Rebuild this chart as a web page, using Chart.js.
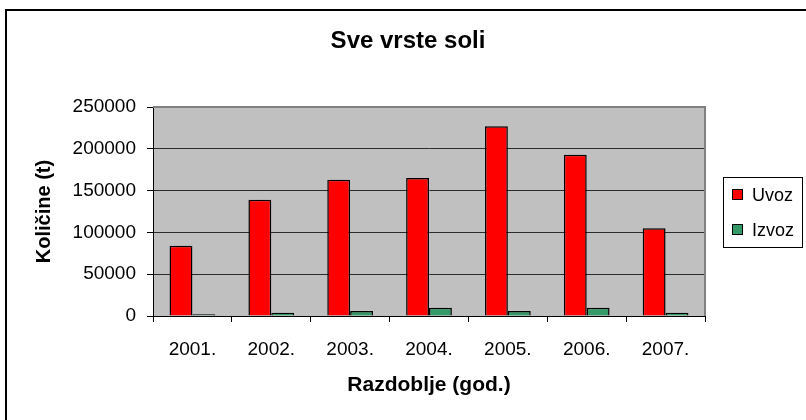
<!DOCTYPE html>
<html>
<head>
<meta charset="utf-8">
<script src="https://cdn.jsdelivr.net/npm/chart.js@4/dist/chart.umd.min.js"></script>
<style>
    html, body { margin: 0; padding: 0; background: #fff; overflow: hidden; }
    #frame {
        position: absolute; left: 5px; top: 9px; width: 799px; height: 409px;
        border-top: 2px solid #000; border-left: 2px solid #000;
    }
    #wrap { position: absolute; left: 0; top: 0; width: 806px; height: 420px; }
</style>
</head>
<body>
<div id="frame"></div>
<div id="wrap"><canvas id="chart" width="806" height="420"></canvas></div>
<script>
// data
const chartTitle = 'Sve vrste soli';
const years = ['2001.', '2002.', '2003.', '2004.', '2005.', '2006.', '2007.'];
const uvoz = [84000, 139000, 163000, 165000, 227000, 193000, 105000];
const izvoz = [2000, 4000, 6000, 10000, 6000, 10000, 4000];
const seriesNames = ['Uvoz', 'Izvoz'];
const seriesColors = ['#FF0000', '#339966'];

const FONT = "'Liberation Sans', Arial, sans-serif";

// grey plot area, grey top/right edge, title and boxed legend (Excel look)
const excelLook = {
    id: 'excelLook',
    beforeDraw(chart) {
        const { ctx, chartArea: a } = chart;
        ctx.save();
        ctx.fillStyle = '#C0C0C0';
        ctx.fillRect(a.left, a.top, a.right - a.left, a.bottom - a.top);
        ctx.restore();
    },
    afterDraw(chart) {
        const { ctx, chartArea: a } = chart;
        ctx.save();
        // top and right edge of the plot
        ctx.strokeStyle = '#808080';
        ctx.lineWidth = 2;
        ctx.beginPath();
        ctx.moveTo(a.left, a.top);
        ctx.lineTo(a.right, a.top);
        ctx.lineTo(a.right, a.bottom);
        ctx.stroke();

        // title
        ctx.fillStyle = '#000';
        ctx.font = 'bold 24px ' + FONT;
        ctx.textAlign = 'center';
        ctx.textBaseline = 'middle';
        ctx.fillText(chartTitle, 408, 41);

        // legend
        ctx.fillStyle = '#fff';
        ctx.fillRect(723.5, 177.5, 79, 70);
        ctx.strokeStyle = '#000';
        ctx.lineWidth = 1;
        ctx.strokeRect(723.5, 177.5, 79, 70);
        ctx.font = '18px ' + FONT;
        ctx.textAlign = 'left';
        chart.data.datasets.forEach((ds, i) => {
            const cy = 195 + i * 35;
            ctx.fillStyle = ds.backgroundColor;
            ctx.fillRect(732.5, cy - 5.5, 10, 10);
            ctx.strokeRect(732.5, cy - 5.5, 10, 10);
            ctx.fillStyle = '#000';
            ctx.fillText(ds.label, 752, cy + 1);
        });
        ctx.restore();
    }
};

const ctx = document.getElementById('chart').getContext('2d');
new Chart(ctx, {
    type: 'bar',
    data: {
        labels: years,
        datasets: [uvoz, izvoz].map((vals, i) => ({
            label: seriesNames[i],
            data: vals,
            backgroundColor: seriesColors[i],
            borderColor: '#000',
            borderWidth: 1.5,
            categoryPercentage: 0.58,
            barPercentage: 1.0
        }))
    },
    options: {
        responsive: false,
        animation: false,
        devicePixelRatio: 1,
        layout: { padding: { left: 10, right: 101, top: 107, bottom: 0 } },
        plugins: {
            legend: { display: false },
            title: { display: false },
            tooltip: { enabled: false }
        },
        scales: {
            x: {
                grid: {
                    drawOnChartArea: false,
                    drawTicks: true,
                    tickLength: 6,
                    tickColor: '#000',
                    offset: true
                },
                border: { color: '#000', width: 1 },
                ticks: {
                    color: '#000',
                    font: { family: FONT, size: 19 },
                    padding: 16,
                    maxRotation: 0
                },
                title: {
                    display: true,
                    text: 'Razdoblje (god.)',
                    color: '#000',
                    font: { family: FONT, size: 21, weight: 'bold' },
                    padding: { top: 0, bottom: 22 }
                },
                afterFit: scale => { scale.height = 104; }
            },
            y: {
                min: 0,
                max: 250000,
                grid: { color: '#2b2b2b', tickLength: 6, tickColor: '#000' },
                border: { color: '#000', width: 1 },
                ticks: {
                    stepSize: 50000,
                    color: '#000',
                    font: { family: FONT, size: 19 },
                    padding: 11,
                    callback: v => String(v)
                },
                title: {
                    display: true,
                    text: 'Količine (t)',
                    color: '#000',
                    font: { family: FONT, size: 20, weight: 'bold' },
                    padding: { top: 22, bottom: 0 }
                },
                afterFit: scale => { scale.width = 143; }
            }
        }
    },
    plugins: [excelLook]
});
</script>
</body>
</html>
